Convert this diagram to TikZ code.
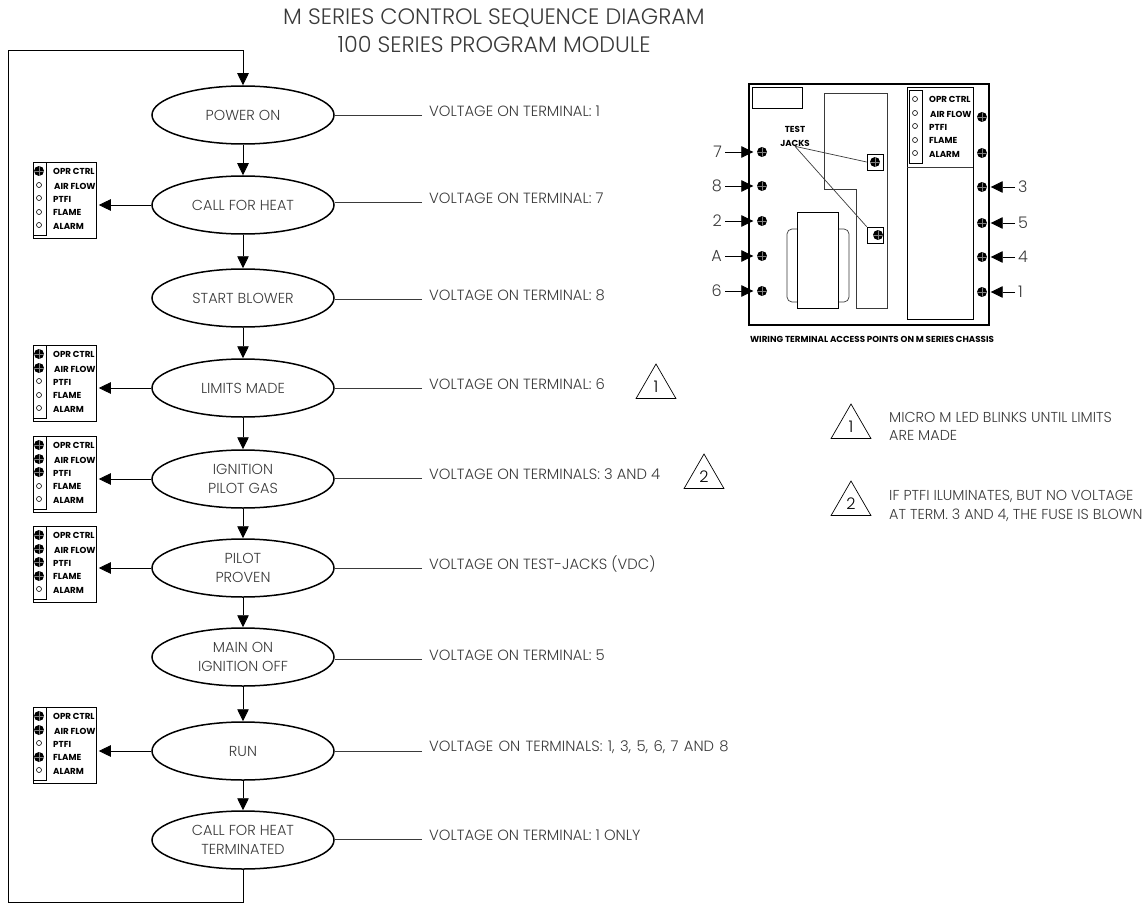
\documentclass[tikz,border=0pt]{standalone}
\usepackage{fontspec}
\setmainfont{Poppins Light}
\newfontfamily\panelfont{Poppins Bold}
\usetikzlibrary{arrows.meta, positioning, calc, shapes.geometric}
\definecolor{inkgray}{HTML}{3A3A3A}

% one strip of five lamps with their names
\newcommand{\ledstrip}[3]{%
	\begin{scope}[shift={(#2,#3)}]
		\node[stripbox] (#1strip) at (0,0) {};
		\foreach \i/\ledy in {1/9,2/23,3/36,4/50,5/63}
			\node[ledoff] (#1led\i) at (6,\ledy) {};
		\node[ledname] (#1opr) at (20,9) {OPR CTRL};
		\node[ledname] (#1air) at (21,24) {AIR FLOW};
		\node[ledname] (#1ptfi) at (20,37) {PTFI};
		\node[ledname] (#1flame) at (20,50) {FLAME};
		\node[ledname] (#1alarm) at (20,64) {ALARM};
	\end{scope}
}
\newcommand{\ledson}[2]{%
	\foreach \i in {#2}
		\node[ledon] (#1lit\i) at (#1led\i) {};
}

\begin{document}
\begin{tikzpicture}[
	x=1pt, y=-1pt,
	oval/.style={ellipse, draw, line width=1.5pt, minimum width=182pt, minimum height=58pt, inner sep=0pt, align=center, text=inkgray, font=\fontsize{14.5}{19}\selectfont},
	flow/.style={-{Triangle[length=12pt, width=11.5pt]}, line width=.8pt},
	leader/.style={line width=.7pt, draw=inkgray},
	volt/.style={anchor=west, inner xsep=7pt, inner ysep=0pt, text=inkgray, font=\fontsize{14.8}{16}\selectfont},
	note/.style={anchor=west, inner sep=0pt, align=left, text=inkgray, font=\fontsize{14.4}{18.5}\selectfont},
	panelbox/.style={draw, line width=.8pt, minimum width=63pt, minimum height=76pt, inner sep=0pt, anchor=north west},
	stripbox/.style={draw, line width=.7pt, minimum width=13pt, minimum height=73pt, inner sep=0pt, anchor=north west},
	ledoff/.style={circle, draw, line width=.6pt, fill=white, minimum size=5pt, inner sep=0pt},
	ledon/.style={circle, fill=black, minimum size=10pt, inner sep=0pt, path picture={\draw[gray, line width=.2pt] (path picture bounding box.west) -- (path picture bounding box.east) (path picture bounding box.north) -- (path picture bounding box.south);}},
	ledname/.style={anchor=west, inner sep=0pt, font=\panelfont\fontsize{8.7}{11}\selectfont},
	terminal/.style={ledon},
	termtext/.style={inner sep=3pt, text=inkgray, font=\fontsize{16}{18}\selectfont},
	triangle/.style={regular polygon, regular polygon sides=3, draw, line width=.7pt, minimum size=46pt, inner sep=0pt, font=\fontsize{16}{18}\selectfont}
	]
	\useasboundingbox (0,0) rectangle (1147,904);
	% heading
	\node[align=center, text=inkgray, font=\fontsize{22.3}{28}\selectfont] (heading) at (494,31) {M SERIES CONTROL SEQUENCE DIAGRAM\\100 SERIES PROGRAM MODULE};

	% sequence
	\begin{scope}[on grid]
		\node[oval] (power) at (243,115) {POWER ON};
		\node[oval, below=90pt of power] (call) {CALL FOR HEAT};
		\node[oval, below=93pt of call] (blower) {START BLOWER};
		\node[oval, below=90pt of blower] (limits) {LIMITS MADE};
		\node[oval, below=91pt of limits] (ign) {IGNITION\\PILOT GAS};
		\node[oval, below=89pt of ign] (pilot) {PILOT\\PROVEN};
		\node[oval, below=89pt of pilot] (mainon) {MAIN ON\\IGNITION OFF};
		\node[oval, below=94pt of mainon] (run) {RUN};
		\node[oval, below=89pt of run] (term) {CALL FOR HEAT\\TERMINATED};
	\end{scope}
	\draw[flow] (power) -- (call);
	\draw[flow] (call) -- (blower);
	\draw[flow] (blower) -- (limits);
	\draw[flow] (limits) -- (ign);
	\draw[flow] (ign) -- (pilot);
	\draw[flow] (pilot) -- (mainon);
	\draw[flow] (mainon) -- (run);
	\draw[flow] (run) -- (term);
	\coordinate (loopbot) at (8,902.5);
	\coordinate (looptop) at (8,50);
	\draw[flow] (term.south) |- (loopbot) -- (looptop) -| (power.north);

	% voltages
	\node[volt] (vpower) at (422,111) {VOLTAGE ON TERMINAL: 1};
	\node[volt] (vcall) at (422,198) {VOLTAGE ON TERMINAL: 7};
	\node[volt] (vblower) at (422,295) {VOLTAGE ON TERMINAL: 8};
	\node[volt] (vlimits) at (422,384) {VOLTAGE ON TERMINAL: 6};
	\node[volt] (vign) at (422,474) {VOLTAGE ON TERMINALS: 3 AND 4};
	\node[volt] (vpilot) at (422,564) {VOLTAGE ON TEST-JACKS (VDC)};
	\node[volt] (vmainon) at (422,655) {VOLTAGE ON TERMINAL: 5};
	\node[volt] (vrun) at (422,747) {\spaceskip=5.3pt VOLTAGE ON TERMINALS: 1, 3, 5, 6, 7 AND 8};
	\node[volt] (vterm) at (422,835) {VOLTAGE ON TERMINAL: 1 ONLY};
	\foreach \name in {power,call,blower,limits,ign,pilot,mainon,run,term}
		\draw[leader] ([yshift=-4pt]v\name.west) -- ([yshift=-4pt]v\name.west -| \name.east);
	\node[triangle] (mark1) at (656,387) {1};
	\node[triangle] (mark2) at (704,477) {2};

	% lamp panels
	\foreach \name/\top in {call/162,limits/345,ign/436,pilot/526,run/707} {
		\node[panelbox] (\name panel) at (33,\top) {};
		\ledstrip{\name}{33}{\top}
		\draw[flow, shorten >=2pt] (\name.west) -- (\name.west -| \name panel.east);
	}
	\ledson{call}{1}
	\ledson{limits}{1,2}
	\ledson{ign}{1,2,3}
	\ledson{pilot}{1,2,3,4}
	\ledson{run}{1,2,4}

	% chassis
	\node[draw, line width=1.6pt, minimum width=240pt, minimum height=241pt, inner sep=0pt, anchor=north west] (chassis) at (748,83) {};
	\node[draw, line width=.7pt, minimum width=50pt, minimum height=21pt, inner sep=0pt, anchor=north west] (plate) at (752,87) {};
	\draw[leader] (824,93) -- (887,93) -- (887,308) -- (856,308) -- (856,189) -- (824,189) -- cycle;
	\draw[leader, rounded corners=5pt] (797,229) -- (787,229) -- (787,302) -- (797,302);
	\draw[leader, rounded corners=5pt] (838,229) -- (849,229) -- (849,302) -- (838,302);
	\node[draw, line width=.7pt, fill=white, minimum width=41pt, minimum height=96pt, inner sep=0pt, anchor=north west] (transformer) at (797,212) {};
	\node[draw, line width=.7pt, minimum width=66pt, minimum height=232pt, inner sep=0pt, anchor=north west] (bay) at (907,87) {};
	\draw[leader] (907,167) -- (973,167);
	\ledstrip{bay}{909}{90}

	% test jacks
	\node[align=center, inner sep=0pt, font=\panelfont\fontsize{8.7}{14}\selectfont] (jacks) at (795,136) {TEST\\JACKS};
	\node[draw, line width=.7pt, minimum size=16pt, inner sep=0pt] (jack1) at (875,162) {};
	\node[draw, line width=.7pt, minimum size=16pt, inner sep=0pt] (jack2) at (875,235) {};
	\node[terminal] (jackdot1) at (875,162) {};
	\node[terminal] (jackdot2) at (878,235) {};
	\draw[leader] (jacks.south) -- (jack1.west);
	\draw[leader] (jacks.south) -- (jack2.north west);

	% terminals
	\foreach \name/\yy in {7/152,8/186,2/221,A/256,6/291} {
		\node[terminal] (t\name) at (762,\yy) {};
		\node[termtext, anchor=east] (l\name) at (725,\yy) {\name};
		\draw[flow, shorten >=3.5pt] (l\name) -- (t\name);
	}
	\node[terminal] (tx1) at (982,117) {};
	\node[terminal] (tx2) at (982,153) {};
	\foreach \name/\yy in {3/187,5/223,4/257,1/292} {
		\node[terminal] (t\name) at (982,\yy) {};
		\node[termtext, anchor=west] (l\name) at (1015,\yy) {\name};
		\draw[flow, shorten >=3.5pt] (l\name) -- (t\name);
	}
	\node[font=\panelfont\fontsize{8.7}{11}\selectfont] (caption) at (872,339) {WIRING TERMINAL ACCESS POINTS ON M SERIES CHASSIS};

	% notes
	\node[triangle] (mark3) at (851,427) {1};
	\node[triangle] (mark4) at (851,504) {2};
	\node[note] (note1) at (889,426.5) {MICRO M LED BLINKS UNTIL LIMITS\\ARE MADE};
	\node[note] (note2) at (889,506) {IF PTFI ILUMINATES, BUT NO VOLTAGE\\AT TERM. 3 AND 4, THE FUSE IS BLOWN};
\end{tikzpicture}
\end{document}
